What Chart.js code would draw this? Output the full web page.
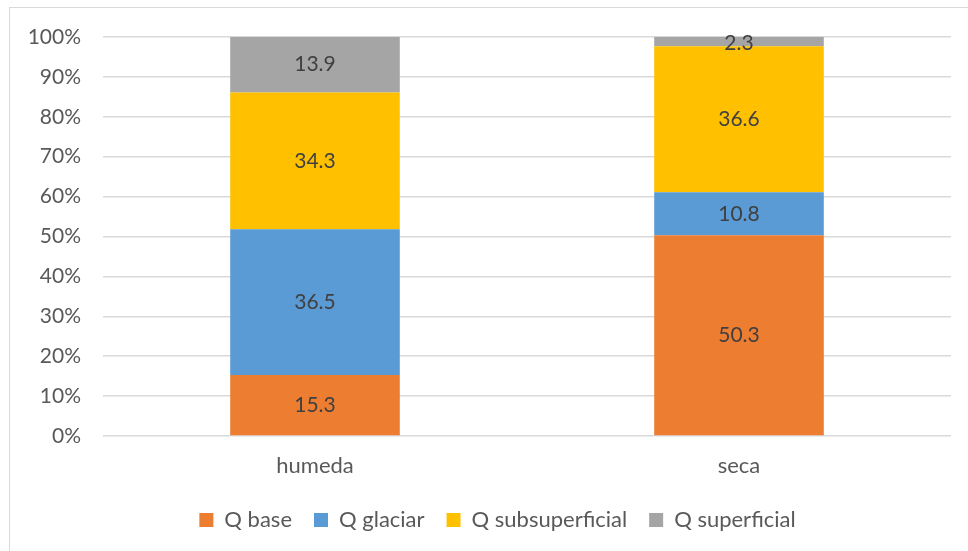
<!DOCTYPE html>
<html>
<head>
<meta charset="utf-8">
<script src="https://cdn.jsdelivr.net/npm/chart.js@4/dist/chart.umd.min.js"></script>
<style>
  html, body { margin: 0; padding: 0; background: #fff; }
  #wrap { position: relative; width: 968px; height: 551px; }
  #frame { position: absolute; left: 9px; top: 7px; width: 970px; height: 560px; border: 1px solid #d9d9d9; box-sizing: border-box; }
</style>
</head>
<body>
<div id="wrap">
  <div id="frame"></div>
  <canvas id="chart" width="968" height="551"></canvas>
</div>
<script>
// categories and series (percent of total flow)
const categories = ['humeda', 'seca'];
const qBase = [15.3, 50.3];
const qGlaciar = [36.5, 10.8];
const qSubsuperficial = [34.3, 36.6];
const qSuperficial = [13.9, 2.3];
const yTicks = [0, 10, 20, 30, 40, 50, 60, 70, 80, 90, 100];

const FONT = 'Lato, "Open Sans", sans-serif';

// draws the value in the middle of every segment
const segmentLabels = {
  id: 'segmentLabels',
  afterDatasetsDraw(chart) {
    const ctx = chart.ctx;
    ctx.save();
    ctx.font = '21px ' + FONT;
    ctx.fillStyle = '#404040';
    ctx.textAlign = 'center';
    ctx.textBaseline = 'middle';
    chart.data.datasets.forEach((ds, i) => {
      const meta = chart.getDatasetMeta(i);
      meta.data.forEach((bar, j) => {
        let y = (bar.y + bar.base) / 2;
        if (ds.data[j] < 5) y = bar.y + 6;
        ctx.fillText(ds.data[j].toFixed(1), bar.x, y);
      });
    });
    ctx.restore();
  }
};

// legend in the original sits a bit right of centre
const shiftLegend = {
  id: 'shiftLegend',
  afterLayout(chart) {
    if (chart.legend) {
      chart.legend.left += 22;
      chart.legend.right += 22;
    }
  }
};

new Chart(document.getElementById('chart'), {
  type: 'bar',
  data: {
    labels: categories,
    datasets: [
      { label: 'Q base', data: qBase, backgroundColor: '#ED7D31' },
      { label: 'Q glaciar', data: qGlaciar, backgroundColor: '#5B9BD5' },
      { label: 'Q subsuperficial', data: qSubsuperficial, backgroundColor: '#FFC000' },
      { label: 'Q superficial', data: qSuperficial, backgroundColor: '#A5A5A5' }
    ]
  },
  options: {
    responsive: false,
    animation: false,
    datasets: { bar: { barPercentage: 0.4, categoryPercentage: 1.0, borderWidth: 0 } },
    layout: { padding: { top: 37, right: 17, bottom: 10, left: 0 } },
    plugins: {
      tooltip: { enabled: false },
      legend: {
        position: 'bottom',
        labels: {
          font: { family: FONT, size: 22 },
          color: '#595959',
          boxWidth: 14,
          boxHeight: 14,
          padding: 22
        }
      }
    },
    scales: {
      x: {
        stacked: true,
        grid: { display: false },
        border: { display: false },
        ticks: { font: { family: FONT, size: 22 }, color: '#595959', padding: 9 },
        afterFit(scale) { scale.height = 51; }
      },
      y: {
        stacked: true,
        min: 0,
        max: 100,
        afterBuildTicks(scale) { scale.ticks = yTicks.map(v => ({ value: v })); },
        grid: { color: '#d9d9d9', lineWidth: 1.5, drawTicks: false },
        border: { display: false },
        ticks: {
          font: { family: FONT, size: 21 },
          color: '#595959',
          padding: 22,
          callback: v => v + '%'
        },
        afterFit(scale) { scale.width = 103; }
      }
    }
  },
  plugins: [segmentLabels, shiftLegend]
});
</script>
</body>
</html>
